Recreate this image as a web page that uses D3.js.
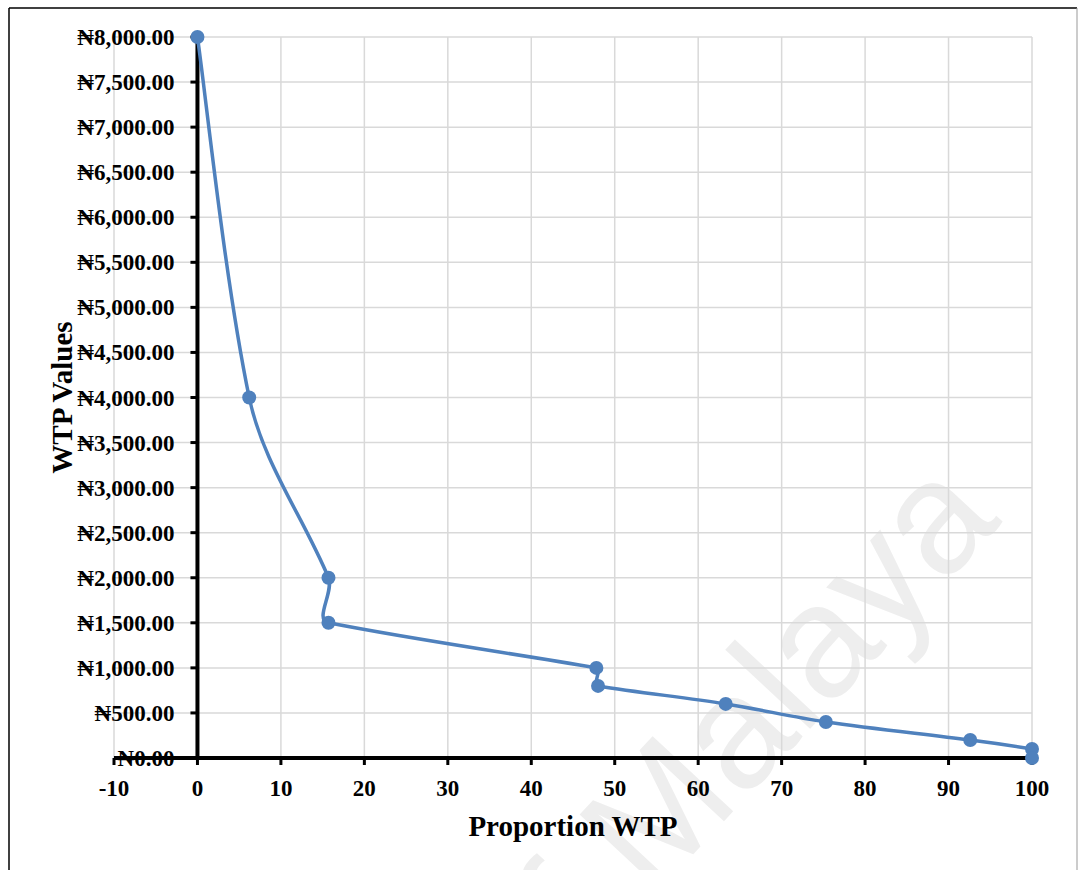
<!DOCTYPE html>
<html>
<head>
<meta charset="utf-8">
<script src="https://cdn.jsdelivr.net/npm/d3@7"></script>
<style>
  body { margin: 0; background: #fff; }
  svg { display: block; }
  .tick-label { font-family: "Liberation Serif", "Times New Roman", serif; font-weight: bold; font-size: 23px; fill: #000; }
  .axis-title { font-family: "Liberation Serif", "Times New Roman", serif; font-weight: bold; font-size: 29px; fill: #000; }
</style>
</head>
<body>
<svg id="chart"></svg>
<script>
const WIDTH  = 1079;
const HEIGHT = 870;

// values
const proportion = [0, 6.2, 15.7, 15.7, 47.8, 48.0, 63.3, 75.3, 92.6, 100, 100];
const wtpValues  = [8000, 4000, 2000, 1500, 1000, 800, 600, 400, 200, 100, 0];
const xTicks = [-10, 0, 10, 20, 30, 40, 50, 60, 70, 80, 90, 100];
const yTicks = d3.range(0, 8001, 500);

const margin = { top: 37, left: 114, right: 1079 - 1032, bottom: 870 - 758 };

/**
 * Spreadsheet-style smoothed line. The tangent at each point leans
 * toward the longer neighbouring segment; handles are a third of
 * the segment they belong to.
 **/
function curveSmooth(context) {
  let pts = [];
  return {
    areaStart() {},
    areaEnd() {},
    lineStart() { pts = []; },
    point(x, y) { pts.push([+x, +y]); },
    lineEnd() {
      const n = pts.length;
      if (!n) return;
      context.moveTo(pts[0][0], pts[0][1]);
      const dist = (a, b) => Math.hypot(b[0] - a[0], b[1] - a[1]);
      const handles = pts.map((p, i) => {
        const prev = pts[Math.max(i - 1, 0)];
        const next = pts[Math.min(i + 1, n - 1)];
        const dp = dist(prev, p);
        const dn = dist(p, next);
        let tx = (p[0] - prev[0]) * dp + (next[0] - p[0]) * dn;
        let ty = (p[1] - prev[1]) * dp + (next[1] - p[1]) * dn;
        const len = Math.hypot(tx, ty) || 1;
        tx /= len; ty /= len;
        const ends = i === 0 || i === n - 1;
        const hin  = ends ? dp / 6 : dp / 3;
        const hout = ends ? dn / 6 : dn / 3;
        return {
          in:  [p[0] - tx * hin,  p[1] - ty * hin],
          out: [p[0] + tx * hout, p[1] + ty * hout]
        };
      });
      for (let i = 1; i < n; i++) {
        const a = handles[i - 1].out, b = handles[i].in;
        context.bezierCurveTo(a[0], a[1], b[0], b[1], pts[i][0], pts[i][1]);
      }
    }
  };
}

const svg = d3.select('#chart')
  .attr('width', WIDTH)
  .attr('height', HEIGHT);

const x = d3.scaleLinear()
  .domain([-10, 100])
  .range([margin.left, WIDTH - margin.right]);

const y = d3.scaleLinear()
  .domain([0, 8000])
  .range([HEIGHT - margin.bottom, margin.top]);

// frame around the figure
svg.append('line').attr('x1', 9).attr('y1', 8).attr('x2', 1077).attr('y2', 8)
  .attr('stroke', '#000').attr('stroke-width', 1.5);
svg.append('line').attr('x1', 9).attr('y1', 8).attr('x2', 9).attr('y2', HEIGHT)
  .attr('stroke', '#000').attr('stroke-width', 1.5);
svg.append('line').attr('x1', 1077).attr('y1', 8).attr('x2', 1077).attr('y2', HEIGHT)
  .attr('stroke', '#999').attr('stroke-width', 1);

// watermark of the source document
svg.append('text')
  .attr('transform', 'translate(1003,522) rotate(-47)')
  .attr('text-anchor', 'end')
  .style('font-family', '"Liberation Sans", Arial, sans-serif')
  .style('font-size', '160px')
  .style('fill', '#eeeeee')
  .text('University of Malaya');

// gridlines
const grid = svg.append('g').attr('class', 'grid')
  .attr('stroke', '#d9d9d9').attr('stroke-width', 1.5);

grid.selectAll('.gx')
  .data(xTicks)
  .enter().append('line')
    .attr('x1', d => x(d)).attr('x2', d => x(d))
    .attr('y1', y(8000)).attr('y2', y(0));

grid.selectAll('.gy')
  .data(yTicks)
  .enter().append('line')
    .attr('x1', x(-10)).attr('x2', x(100))
    .attr('y1', d => y(d)).attr('y2', d => y(d));

// y tick labels (drawn before the x axis line, which strikes through N0.00)
const naira = d3.format(',.2f');
svg.append('g').selectAll('text')
  .data(yTicks)
  .enter().append('text')
    .attr('class', 'tick-label')
    .attr('x', x(0) - 23)
    .attr('y', d => y(d))
    .attr('dy', '0.35em')
    .attr('text-anchor', 'end')
    .text(d => '\u20A6' + naira(d));

// x tick labels
svg.append('g').selectAll('text')
  .data(xTicks)
  .enter().append('text')
    .attr('class', 'tick-label')
    .attr('x', d => x(d))
    .attr('y', y(0) + 38)
    .attr('text-anchor', 'middle')
    .text(d => d);

// axes, crossing at zero
const axes = svg.append('g').attr('stroke', '#000');

axes.append('line')
  .attr('x1', x(-10)).attr('x2', x(100))
  .attr('y1', y(0)).attr('y2', y(0))
  .attr('stroke-width', 4);

axes.append('line')
  .attr('x1', x(0)).attr('x2', x(0))
  .attr('y1', y(8000)).attr('y2', y(0))
  .attr('stroke-width', 4);

axes.selectAll('.ty')
  .data(yTicks)
  .enter().append('line')
    .attr('x1', x(0) - 7).attr('x2', x(0))
    .attr('y1', d => y(d)).attr('y2', d => y(d))
    .attr('stroke-width', 3);

axes.selectAll('.tx')
  .data(xTicks)
  .enter().append('line')
    .attr('x1', d => x(d)).attr('x2', d => x(d))
    .attr('y1', y(0)).attr('y2', y(0) + 7)
    .attr('stroke-width', 3);

// series
const points = proportion.map((p, i) => [p, wtpValues[i]]);

const line = d3.line()
  .x(d => x(d[0]))
  .y(d => y(d[1]))
  .curve(curveSmooth);

svg.append('path')
  .datum(points)
  .attr('d', line)
  .attr('fill', 'none')
  .attr('stroke', '#4f81bd')
  .attr('stroke-width', 3.5);

svg.append('g').selectAll('circle')
  .data(points)
  .enter().append('circle')
    .attr('cx', d => x(d[0]))
    .attr('cy', d => y(d[1]))
    .attr('r', 7)
    .attr('fill', '#4f81bd');

// axis titles
svg.append('text')
  .attr('class', 'axis-title')
  .attr('x', (x(-10) + x(100)) / 2)
  .attr('y', 836)
  .attr('text-anchor', 'middle')
  .text('Proportion WTP');

svg.append('text')
  .attr('class', 'axis-title')
  .attr('transform', `translate(72,${(y(0) + y(8000)) / 2}) rotate(-90)`)
  .attr('text-anchor', 'middle')
  .text('WTP Values');
</script>
</body>
</html>
